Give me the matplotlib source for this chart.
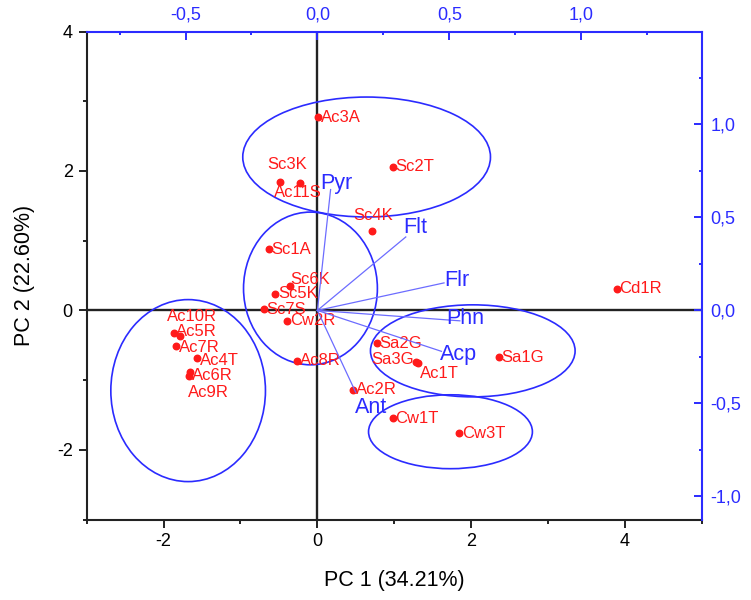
import matplotlib.pyplot as plt
import numpy as np
from matplotlib.patches import Ellipse
from matplotlib.ticker import FuncFormatter, MultipleLocator, FixedLocator

plt.rcParams['font.family'] = ['Liberation Sans', 'DejaVu Sans']
plt.rcParams['axes.unicode_minus'] = False

# sample scores (PC1, PC2)
names = ["Ac3A", "Sc3K", "Ac11S", "Sc2T", "Sc4K", "Sc1A", "Sc6K", "Sc5K", "Sc7S",
         "Cw2R", "Ac5R", "Ac10R", "Ac7R", "Ac4T", "Ac6R", "Ac9R", "Ac8R", "Cd1R",
         "Sa2G", "Sa3G", "Ac1T", "Sa1G", "Ac2R", "Cw1T", "Cw3T"]
pc1 = [0.01, -0.48, -0.22, 0.98, 0.71, -0.63, -0.36, -0.55, -0.70,
       -0.39, -1.87, -1.79, -1.84, -1.56, -1.67, -1.65, -0.26, 3.89,
       0.77, 1.28, 1.31, 2.36, 0.46, 0.98, 1.84]
pc2 = [2.77, 1.84, 1.83, 2.06, 1.14, 0.88, 0.35, 0.24, 0.02,
       -0.15, -0.32, -0.37, -0.51, -0.68, -0.94, -0.88, -0.72, 0.31,
       -0.47, -0.74, -0.76, -0.67, -1.14, -1.55, -1.76]

# variable loadings (top / right axes)
var_names = ["Pyr", "Flt", "Flr", "Phn", "Acp", "Ant"]
load1 = [0.05, 0.335, 0.48, 0.54, 0.47, 0.145]
load2 = [0.65, 0.395, 0.148, -0.056, -0.22, -0.44]

# group ellipses: center x, center y, width, height
ell_cx = [0.64, -0.09, -1.68, 2.02, 1.73]
ell_cy = [2.20, 0.315, -1.15, -0.58, -1.74]
ell_w = [3.22, 1.74, 2.01, 2.66, 2.13]
ell_h = [1.72, 2.19, 2.61, 1.32, 1.06]

red = '#ff1a1a'
blue = '#2b2bff'

# label placement (offset in points, alignment)
lab_off = {"Sc3K": (5, 13, 'center'), "Ac11S": (-2, -7, 'center'),
           "Sc4K": (1, 11, 'center'), "Ac10R": (9, 14, 'center'),
           "Ac5R": (2, 1, 'left'), "Ac7R": (2, -1, 'left'),
           "Ac4T": (2, -2, 'left'),
           "Sa3G": (-17, 2, 'center'), "Ac1T": (15, -7, 'center'),
           "Ac9R": (13, -15, 'center'), "Sc6K": (15, 5, 'center')}
var_off = [(4, 4), (7, 7), (9, 2), (4, 2), (12, -2), (11, -11)]

fig = plt.figure(figsize=(7.51, 6), dpi=100)
pos = [0.1153, 0.134, 0.8195, 0.8135]
ax = fig.add_axes(pos)
ax.set_xlim(-3, 5)
ax.set_ylim(-3, 4)

ax.axhline(0, color='#222222', lw=1.7, zorder=1)
ax.axvline(0, color='#222222', lw=1.7, zorder=1)

for cx, cy, w, h in zip(ell_cx, ell_cy, ell_w, ell_h):
    ax.add_patch(Ellipse((cx, cy), w, h, fill=False, ec=blue, lw=1.2, zorder=2))

ax.scatter(pc1, pc2, s=22, color=red, zorder=4)
for n, x, y in zip(names, pc1, pc2):
    if n in lab_off:
        dx, dy, ha = lab_off[n]
    else:
        dx, dy, ha = 2, 0, 'left'
    ax.annotate(n, (x, y), xytext=(dx, dy), textcoords='offset points',
                ha=ha, va='center', color=red, fontsize=12, zorder=5)

ax.xaxis.set_major_locator(MultipleLocator(2))
ax.xaxis.set_minor_locator(MultipleLocator(1))
ax.yaxis.set_major_locator(MultipleLocator(2))
ax.yaxis.set_minor_locator(MultipleLocator(1))
ax.tick_params(which='major', length=6, width=1.4, labelsize=13, pad=4, color='#222222')
ax.tick_params(which='minor', length=3, width=1.4, color='#222222')
for s in ['left', 'bottom']:
    ax.spines[s].set_linewidth(1.5)
    ax.spines[s].set_color('#222222')
for s in ['top', 'right']:
    ax.spines[s].set_visible(False)
ax.set_xlabel("PC 1 (34.21%)", fontsize=15.5, labelpad=14)
ax.set_ylabel("PC 2 (22.60%)", fontsize=15.5, labelpad=16)

# loadings axes
ax2 = fig.add_axes(pos, facecolor='none')
ax2.set_xlim(-0.875, 1.458)
ax2.set_ylim(-1.125, 1.5)
for lx, ly, vn, (dx, dy) in zip(load1, load2, var_names, var_off):
    ax2.plot([0, lx], [0, ly], color='#6c6cff', lw=0.9, zorder=3)
    ax2.annotate(vn, (lx, ly), xytext=(dx, dy), textcoords='offset points',
                 ha='center', va='center', color=blue, fontsize=15.5, zorder=5)

fmt = FuncFormatter(lambda v, p: f"{v:.1f}".replace('.', ','))
ax2.xaxis.tick_top()
ax2.yaxis.tick_right()
ax2.xaxis.set_major_locator(FixedLocator([-0.5, 0, 0.5, 1.0]))
ax2.xaxis.set_minor_locator(FixedLocator([-0.75, -0.25, 0.25, 0.75, 1.25]))
ax2.yaxis.set_major_locator(FixedLocator([-1.0, -0.5, 0, 0.5, 1.0]))
ax2.yaxis.set_minor_locator(FixedLocator([-0.75, -0.25, 0.25, 0.75, 1.25]))
ax2.xaxis.set_major_formatter(fmt)
ax2.yaxis.set_major_formatter(fmt)
ax2.tick_params(which='both', direction='in', color=blue, labelcolor=blue, width=1.4)
ax2.tick_params(which='major', length=6, labelsize=13, pad=6)
ax2.tick_params(which='minor', length=2.5)
for s in ['left', 'bottom']:
    ax2.spines[s].set_visible(False)
for s in ['top', 'right']:
    ax2.spines[s].set_color(blue)
    ax2.spines[s].set_linewidth(1.5)

fig.savefig("out.png", dpi=100)
